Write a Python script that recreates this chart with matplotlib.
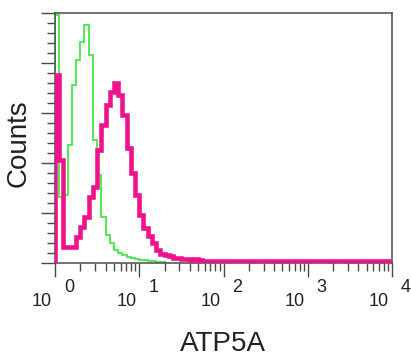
import matplotlib
matplotlib.use('Agg')
import matplotlib.pyplot as plt
import matplotlib.transforms as mtransforms
import numpy as np

plt.rcParams['font.family'] = ['Liberation Sans', 'DejaVu Sans']

# histogram bins: 80 channels over 4 decades
edges = np.logspace(0, 4, 81)

# isotype control (green)
control_counts = [248, 66, 68, 118, 178, 203, 221, 238, 208, 123,
                  88, 46, 28, 20, 13, 10, 8, 6, 5, 4,
                  3, 3, 2, 2, 1, 1, 0]

# ATP5A stained (magenta)
atp5a_counts = [188, 103, 16, 16, 16, 26, 36, 46, 66, 76,
                113, 138, 158, 171, 180, 168, 148, 115, 90, 68,
                48, 35, 27, 20, 13, 9, 8, 7, 5, 5,
                4, 4, 3, 4, 3, 2, 2, 2, 2, 2,
                2, 2, 2, 2, 2, 2, 2, 2, 2, 2,
                2, 2, 2, 2, 2, 2, 2, 2, 2, 2,
                2, 2, 2, 2, 2, 2, 2, 2, 2, 2,
                2, 2, 2, 2, 2, 2, 2, 2, 2, 2]

decades = [0, 1, 2, 3, 4]

fig = plt.figure(figsize=(4.11, 3.58), dpi=100)
ax = fig.add_axes([55 / 411, 1 - 263 / 358, 337 / 411, 250 / 358])

ax.stairs(control_counts, edges[:len(control_counts) + 1], color='#42ea42', lw=1.3, zorder=2)
ax.stairs(atp5a_counts, edges, color='#f0128c', lw=3.3, zorder=3)

ax.set_xscale('log')
ax.set_xlim(1, 1e4)
ax.set_ylim(0, 250)

edge_col = '#4a4a4a'
for s in ax.spines.values():
    s.set_color(edge_col)
    s.set_linewidth(1.1)

ax.set_yticks(np.arange(0, 251, 50))
ax.set_yticks(np.arange(0, 251, 10), minor=True)
ax.tick_params(axis='both', which='major', direction='out', length=10, width=1, color=edge_col)
ax.tick_params(axis='both', which='minor', direction='out', length=5.5, width=1, color=edge_col)
ax.set_xticks([10 ** d for d in decades])
ax.xaxis.set_minor_locator(matplotlib.ticker.LogLocator(base=10, subs=np.arange(2, 10)))
ax.set_xticklabels([])
ax.set_yticklabels([])
ax.xaxis.set_minor_formatter(matplotlib.ticker.NullFormatter())

# "10" with a detached superscript exponent
trans = ax.get_xaxis_transform()
for d in decades:
    t_base = mtransforms.offset_copy(trans, fig=fig, x=-13, y=-38, units='dots')
    t_exp = mtransforms.offset_copy(trans, fig=fig, x=14, y=-24, units='dots')
    ax.text(10 ** d, 0, '10', transform=t_base, ha='center', va='center',
            fontsize=13, color='#222222', clip_on=False)
    ax.text(10 ** d, 0, str(d), transform=t_exp, ha='center', va='center',
            fontsize=13, color='#222222', clip_on=False)

fig.text(19 / 411, 1 - 143 / 358, 'Counts', rotation=90, ha='center', va='center',
         fontsize=20, color='#222222')
fig.text(223 / 411, 1 - 344 / 358, 'ATP5A', ha='center', va='center',
         fontsize=20, color='#222222')

fig.savefig('out.png', dpi=100)
